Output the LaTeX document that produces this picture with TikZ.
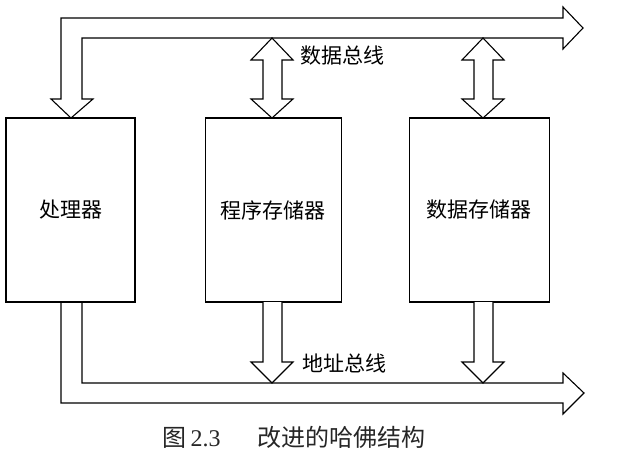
\documentclass[tikz,border=0pt]{standalone}
\usepackage{fontspec}
\setmainfont{Liberation Serif}
\newfontfamily\cjk{Noto Sans CJK SC}
\usetikzlibrary{positioning, calc}
\tikzset{
  box/.style={draw=black, line width=1.1pt, minimum height=184pt, font=\cjk\fontsize{21}{21}\selectfont},
  bus/.style={draw=black, line width=1.1pt, fill=white, line join=miter},
  buslabel/.style={anchor=west, inner sep=0pt, font=\cjk\fontsize{21}{21}\selectfont}
}
\begin{document}
\begin{tikzpicture}[x=1pt, y=-1pt]
            \useasboundingbox (0,0) rectangle (622,471);
            % the three blocks
            \node[box, minimum width=129pt] (proc) at (70.5,210) {处理器};
            \node[box, minimum width=136pt, right=69pt of proc] (prog) {程序存储器};
            \node[box, minimum width=140pt, right=67pt of prog] (data) {数据存储器};
            % data bus, with the arrow down into the processor
            \draw[bus] (563,18) -- (61,18) -- (61,99) -- (51,99) -- (71,118) -- (93,99) -- (82,99)
                -- (82,38) -- (563,38) -- (563,49) -- (583,28) -- (563,7) -- cycle;
            % address bus, out of the processor
            \draw[bus, fill=none] (61,302) -- (61,403) -- (563,403) -- (563,414) -- (584,393)
                -- (563,373) -- (563,383) -- (82,383) -- (82,302);
            % double arrows between the memories and the data bus
            \foreach \m/\c in {prog/272, data/483} {
              \draw[bus] (\c,38) -- (\c-21,60) -- (\c-9,60) -- (\c-9,99) -- (\c-21,99) -- (\c,118)
                  -- (\c+21,99) -- (\c+10,99) -- (\c+10,60) -- (\c+21,60) -- cycle;
              \draw[bus] (\c-9,302) -- (\c-9,362) -- (\c-21,362) -- (\c,383) -- (\c+21,362)
                  -- (\c+10,362) -- (\c+10,302);
            }
            \node[buslabel] (dbus) at (300,56) {数据总线};
            \node[buslabel] (abus) at (302,363) {地址总线};
            \node[font=\fontsize{24}{24}\selectfont, text=black!85] (cap) at (294,437) {{\cjk 图}\,2.3\quad\; {\cjk 改进的哈佛结构}};
\end{tikzpicture}
\end{document}
